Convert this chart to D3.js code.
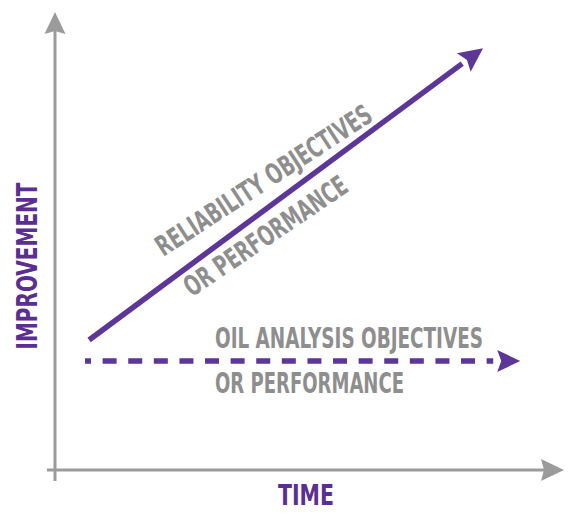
<!DOCTYPE html>
<html>
<head>
<meta charset="utf-8">
<script src="https://cdn.jsdelivr.net/npm/d3@7"></script>
<style>
  html, body { margin: 0; padding: 0; background: #fff; }
  svg { display: block; }
  text { font-family: "Liberation Sans Narrow", "DejaVu Sans Condensed", "Roboto", sans-serif; font-weight: bold; }
</style>
</head>
<body>
<script>
// ---- data (conceptual units, 0..100) ----
const timeDomain = [0, 100];
const improvementDomain = [0, 100];
const reliabilityTime = [6.7, 84.1];
const reliabilityImprovement = [28.4, 92.1];
const oilTime = [5.9, 91.4];
const oilImprovement = [23.8, 23.8];
const axisTitles = ["TIME", "IMPROVEMENT"];
const reliabilityLabel = ["RELIABILITY OBJECTIVES", "OR PERFORMANCE"];
const oilLabel = ["OIL ANALYSIS OBJECTIVES", "OR PERFORMANCE"];

const W = 579, H = 519;
const purple = "#5c3795", purpleText = "#5a2f91", grayAxis = "#9b9b9b", grayText = "#8e8e8e";

const svg = d3.select("body").append("svg").attr("width", W).attr("height", H);

const x = d3.scaleLinear().domain(timeDomain).range([55, 564]);
const y = d3.scaleLinear().domain(improvementDomain).range([470, 12]);

function arrowHead(g, tip, u, color, L = 23, Wd = 11, N = 4) {
  const n = [-u[1], u[0]];
  const b = [tip[0] - L * u[0], tip[1] - L * u[1]];
  const pts = [
    tip,
    [b[0] + Wd * n[0], b[1] + Wd * n[1]],
    [tip[0] - (L - N) * u[0], tip[1] - (L - N) * u[1]],
    [b[0] - Wd * n[0], b[1] - Wd * n[1]]
  ];
  return g.append("path").attr("d", d3.line()(pts) + "Z").attr("fill", color);
}

// ---- axes ----
const axes = svg.append("g");
const x0 = x(timeDomain[0]), y0 = y(improvementDomain[0]);
const xTip = x(timeDomain[1]), yTip = y(improvementDomain[1]);
axes.append("line").attr("x1", x0).attr("y1", y0 + 11).attr("x2", x0).attr("y2", yTip + 19)
  .attr("stroke", grayAxis).attr("stroke-width", 3);
axes.append("line").attr("x1", x0 - 8).attr("y1", y0).attr("x2", xTip - 19).attr("y2", y0)
  .attr("stroke", grayAxis).attr("stroke-width", 3);
arrowHead(axes, [x0, yTip], [0, -1], grayAxis, 22, 10.5, 3);
arrowHead(axes, [xTip, y0], [1, 0], grayAxis, 23, 11, 3);

// axis titles
svg.append("text").attr("x", 306).attr("y", 505).attr("text-anchor", "middle")
  .attr("font-size", 29).attr("fill", purpleText)
  .attr("textLength", 56).attr("lengthAdjust", "spacingAndGlyphs").text(axisTitles[0]);
svg.append("text").attr("transform", "translate(37,266) rotate(-90)").attr("text-anchor", "middle")
  .attr("font-size", 29).attr("fill", purpleText)
  .attr("textLength", 167).attr("lengthAdjust", "spacingAndGlyphs").text(axisTitles[1]);

// ---- reliability line (solid) ----
const rel = reliabilityTime.map((t, i) => [x(t), y(reliabilityImprovement[i])]);
{
  const dx = rel[1][0] - rel[0][0], dy = rel[1][1] - rel[0][1];
  const len = Math.hypot(dx, dy), u = [dx / len, dy / len];
  const end = [rel[1][0] - 26 * u[0], rel[1][1] - 26 * u[1]];
  svg.append("path").attr("d", d3.line()([rel[0], end]))
    .attr("stroke", purple).attr("stroke-width", 5.5).attr("fill", "none");
  arrowHead(svg, rel[1], u, purple, 24, 11.5, 4);
}

// ---- oil analysis line (dashed) ----
const oil = oilTime.map((t, i) => [x(t), y(oilImprovement[i])]);
svg.append("path").attr("d", d3.line()([oil[0], [oil[1][0] - 27, oil[1][1]]]))
  .attr("stroke", purple).attr("stroke-width", 5.5).attr("fill", "none")
  .attr("stroke-dasharray", "14 11.6").attr("stroke-dashoffset", 8);
arrowHead(svg, oil[1], [1, 0], purple, 23, 11, 4);

// ---- labels ----
function label(txt, cx, cy, angle, len) {
  svg.append("text").attr("transform", `translate(${cx},${cy}) rotate(${angle})`)
    .attr("text-anchor", "middle").attr("font-size", 28).attr("fill", grayText)
    .attr("textLength", len).attr("lengthAdjust", "spacingAndGlyphs").text(txt);
}
label(reliabilityLabel[0], 269, 188.5, -33, 252);
label(reliabilityLabel[1], 271, 244, -34, 191);
label(oilLabel[0], 349, 348, 0, 268);
label(oilLabel[1], 309.5, 393, 0, 189);
</script>
</body>
</html>
